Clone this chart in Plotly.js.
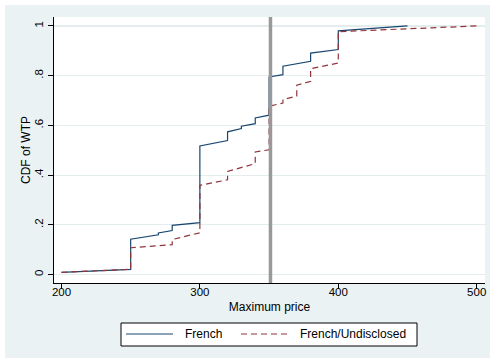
<!DOCTYPE html>
<html>
<head>
<meta charset="utf-8">
<script src="https://cdn.plot.ly/plotly-3.0.1.min.js"></script>
<style>
  html, body { margin: 0; padding: 0; background: #ffffff; }
  #chart { position: absolute; left: 5px; top: 5px; width: 485px; height: 353px; }
</style>
</head>
<body>
<div id="chart"></div>
<script>
// French
const frenchX = [200, 250, 250, 270, 270, 280, 280, 300, 300, 320, 320, 330, 330, 340, 340, 350, 350, 360, 360, 380, 380, 400, 400, 450];
const frenchY = [0.009, 0.021, 0.142, 0.160, 0.167, 0.177, 0.198, 0.209, 0.517, 0.539, 0.574, 0.587, 0.597, 0.607, 0.630, 0.641, 0.795, 0.804, 0.838, 0.858, 0.891, 0.905, 0.980, 1.0];
// French/Undisclosed
const undiscX = [200, 250, 250, 280, 280, 300, 300, 320, 320, 340, 340, 350, 350, 360, 360, 370, 370, 380, 380, 400, 400, 450, 500];
const undiscY = [0.009, 0.021, 0.108, 0.120, 0.141, 0.168, 0.359, 0.381, 0.415, 0.446, 0.493, 0.502, 0.677, 0.690, 0.704, 0.718, 0.762, 0.777, 0.828, 0.851, 0.977, 0.988, 1.0];
const seriesNames = ["French", "French/Undisclosed"];
const refLineX = 351;
const xTicks = [200, 300, 400, 500];
const yTicks = [0, 0.2, 0.4, 0.6, 0.8, 1];
const yTickText = ["0", ".2", ".4", ".6", ".8", "1"];

const font = "'Liberation Sans', Arial, Helvetica, sans-serif";
const styles = [
  { color: "#1a476f", width: 1.2 },
  { color: "#90353b", width: 1.2, dash: "6px,4px" }
];

const traces = [
  { x: frenchX, y: frenchY, name: seriesNames[0], mode: "lines", type: "scatter", line: styles[0] },
  { x: undiscX, y: undiscY, name: seriesNames[1], mode: "lines", type: "scatter", line: styles[1] }
];

// plot-area geometry in div pixels (for the hand-placed legend)
const W = 485, H = 353, M = { l: 49, r: 5, t: 12, b: 75 };
const PW = W - M.l - M.r, PH = H - M.t - M.b;
const px = (x) => (x - M.l) / PW;
const py = (y) => (H - M.b - y) / PH;

const legendY = 329;
const shapes = [
  { type: "line", xref: "x", yref: "paper", x0: refLineX, x1: refLineX, y0: 0, y1: 1,
    line: { color: "#999999", width: 3.5 }, layer: "above" },
  { type: "rect", xref: "paper", yref: "paper", x0: px(116), x1: px(412), y0: py(318), y1: py(341),
    line: { color: "#000000", width: 1 }, fillcolor: "#ffffff", layer: "above" },
  { type: "line", xref: "paper", yref: "paper", x0: px(121), x1: px(168), y0: py(legendY), y1: py(legendY),
    line: styles[0], layer: "above" },
  { type: "line", xref: "paper", yref: "paper", x0: px(236), x1: px(283), y0: py(legendY), y1: py(legendY),
    line: styles[1], layer: "above" }
];
const annotations = [
  { text: seriesNames[0], xref: "paper", yref: "paper", x: px(178), y: py(legendY),
    xanchor: "left", yanchor: "middle", showarrow: false, font: { family: font, size: 12, color: "#000" } },
  { text: seriesNames[1], xref: "paper", yref: "paper", x: px(292.7), y: py(legendY),
    xanchor: "left", yanchor: "middle", showarrow: false, font: { family: font, size: 12, color: "#000" } }
];

const layout = {
  width: W, height: H,
  margin: { l: M.l, r: M.r, t: M.t, b: M.b, pad: 0 },
  paper_bgcolor: "#eaf2f3",
  plot_bgcolor: "#ffffff",
  font: { family: font, size: 12, color: "#000000" },
  showlegend: false,
  xaxis: {
    range: [194.6, 506],
    tickvals: xTicks, ticktext: xTicks.map(String),
    ticks: "outside", ticklen: 5, tickcolor: "#000000", tickwidth: 1,
    ticklabelstandoff: -7,
    showline: true, linecolor: "#000000", linewidth: 1,
    showgrid: false, zeroline: false,
    tickfont: { family: font, size: 11.5, color: "#000000" },
    title: { text: "Maximum price", font: { family: font, size: 12, color: "#000000" }, standoff: 5 }
  },
  yaxis: {
    range: [-0.034, 1.036],
    tickvals: yTicks, ticktext: yTickText, tickangle: -90,
    ticks: "outside", ticklen: 5, tickcolor: "#000000", tickwidth: 1,
    showline: true, linecolor: "#000000", linewidth: 1,
    showgrid: true, gridcolor: "#e4eded", gridwidth: 1.2, zeroline: false,
    tickfont: { family: font, size: 11.5, color: "#000000" },
    title: { text: "CDF of WTP", font: { family: font, size: 12, color: "#000000" }, standoff: 0 }
  },
  shapes: shapes,
  annotations: annotations
};

Plotly.newPlot("chart", traces, layout, { displayModeBar: false, staticPlot: true });
</script>
</body>
</html>
